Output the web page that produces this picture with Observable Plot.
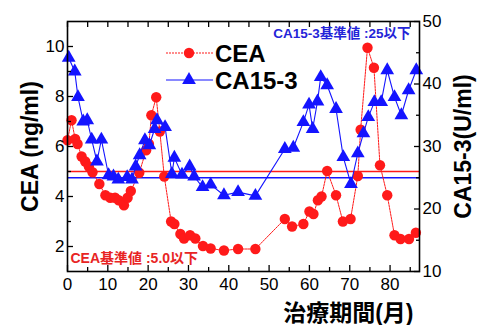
<!DOCTYPE html>
<html>
<head>
<meta charset="utf-8">
<script src="https://cdn.jsdelivr.net/npm/d3@7"></script>
<script src="https://cdn.jsdelivr.net/npm/@observablehq/plot@0.6"></script>
<style>
  html, body { margin: 0; padding: 0; background: #fff; }
  #chart { width: 491px; height: 325px; }
</style>
</head>
<body>
<div id="chart"></div>
<script>
// ---- data ----
const ceaMonths = [0, 1.0, 1.9, 2.5, 3.5, 4.4, 5.3, 6.2, 7.9, 9.4, 10.6, 11.8, 12.7, 14.0, 14.9, 15.7, 17.8, 19.5, 20.2, 20.8, 22.0, 22.9, 24.0, 25.7, 26.5, 28.0, 28.9, 30.4, 31.7, 33.6, 35.5, 38.8, 42.3, 46.6, 53.9, 55.7, 58.5, 60.0, 61.0, 62.1, 63.0, 64.4, 66.6, 68.3, 70.2, 72.0, 72.7, 74.4, 76.0, 77.5, 79.3, 81.1, 82.6, 84.7, 86.4];
const ceaValues = [6.25, 7.05, 6.3, 6.1, 5.6, 5.4, 5.2, 4.97, 4.5, 4.05, 3.95, 3.95, 3.85, 3.65, 3.95, 4.22, 4.95, 5.85, 6.1, 7.25, 7.97, 6.6, 4.8, 3.0, 2.9, 2.5, 2.32, 2.45, 2.32, 2.02, 1.92, 1.84, 1.9, 1.9, 3.1, 2.8, 2.9, 3.4, 3.3, 3.85, 4.0, 5.02, 4.05, 3.0, 3.1, 4.82, 6.67, 9.95, 9.15, 5.25, 4.05, 2.45, 2.3, 2.3, 2.55];

const caMonths = [0.3, 1.8, 2.6, 3.9, 4.9, 6.0, 7.3, 8.4, 10.2, 11.4, 12.6, 14.8, 16.0, 16.9, 17.9, 19.2, 20.3, 21.6, 22.2, 24.2, 25.9, 26.5, 28.4, 30.3, 31.4, 33.5, 35.5, 38.8, 42.3, 46.6, 53.9, 56.0, 58.5, 59.9, 60.8, 62.0, 62.8, 64.4, 66.6, 68.4, 70.3, 72.0, 73.4, 74.6, 76.1, 77.8, 79.3, 81.1, 82.8, 84.6, 86.5];
const caValues = [44.2, 42.0, 37.9, 34.0, 34.2, 31.1, 27.6, 31.1, 25.4, 25.2, 24.7, 25.1, 24.7, 26.8, 28.6, 31.0, 30.2, 32.8, 34.2, 33.1, 25.6, 28.2, 25.5, 26.8, 25.2, 23.5, 23.9, 22.2, 22.7, 22.1, 29.6, 29.8, 33.9, 36.7, 32.8, 37.2, 41.1, 39.8, 36.0, 28.3, 24.0, 28.9, 32.1, 34.7, 37.1, 37.1, 42.2, 37.9, 35.0, 39.0, 42.2];

const ceaLimit = 5.0;
const caLimit = 25;

const xMajorTicks = [0, 10, 20, 30, 40, 50, 60, 70, 80];
const xMinorTicks = [5, 15, 25, 35, 45, 55, 65, 75, 85];
const leftMajorTicks = [2, 4, 6, 8, 10];
const leftMinorTicks = [3, 5, 7, 9];
const rightMajorTicks = [10, 20, 30, 40, 50];
const rightMinorTicks = [15, 25, 35, 45];

const seriesNames = ["CEA", "CA15-3"];
const xLabel = "治療期間(月)";
const yLeftLabel = "CEA (ng/ml)";
const yRightLabel = "CA15-3(U/ml)";
const caNote = "CA15-3基準値 :25以下";
const ceaNote = "CEA基準値 :5.0以下";

// ---- styling ----
const RED = "#ff1a1a";
const BLUE = "#1414ff";
const FONT = "'Liberation Sans', Arial, 'Noto Sans CJK JP', sans-serif";

// CA15-3 (10..50) mapped onto the CEA scale (1..11)
const caToY = v => 1 + (v - 10) / 4;
const yToCa = y => Math.round(10 + (y - 1) * 4);

const ceaData = ceaMonths.map((m, i) => ({m, v: ceaValues[i]}));
const caData = caMonths.map((m, i) => ({m, v: caValues[i]}));

const blank = () => "";

const chart = Plot.plot({
  width: 491,
  height: 325,
  marginLeft: 67,
  marginRight: 72,
  marginTop: 21,
  marginBottom: 54,
  style: {fontFamily: FONT, fontSize: "17px", color: "black", background: "white", overflow: "visible"},
  x: {domain: [0, 87.3]},
  y: {domain: [1, 11]},
  marks: [
    Plot.ruleY([ceaLimit], {stroke: RED, strokeWidth: 1.6}),
    Plot.ruleY([caLimit], {y: d => caToY(d), stroke: BLUE, strokeWidth: 1.6}),
    Plot.line(ceaData, {x: "m", y: "v", stroke: RED, strokeWidth: 1, strokeDasharray: "2,1"}),
    Plot.dot(ceaData, {x: "m", y: "v", r: 5.2, fill: RED}),
    Plot.line(caData, {x: "m", y: d => caToY(d.v), stroke: BLUE, strokeWidth: 1.1}),
    Plot.dot(caData, {x: "m", y: d => caToY(d.v), symbol: "triangle", r: 5.1, fill: BLUE}),
    Plot.frame({stroke: "black", strokeWidth: 1.6}),
    // axes (ticks pointing inward)
    Plot.axisX({anchor: "bottom", ticks: xMajorTicks, tickSize: -6, tickPadding: 12, fontSize: 17, strokeWidth: 1.3, label: null}),
    Plot.axisX({anchor: "bottom", ticks: xMinorTicks, tickSize: -4, tickFormat: blank, strokeWidth: 1.3, label: null}),
    Plot.axisX({anchor: "top", ticks: xMajorTicks.concat(xMinorTicks), tickSize: -5, tickFormat: blank, strokeWidth: 1.3, label: null}),
    Plot.axisY({anchor: "left", ticks: leftMajorTicks, tickSize: -6, tickPadding: 9, fontSize: 17, strokeWidth: 1.3, label: null}),
    Plot.axisY({anchor: "left", ticks: leftMinorTicks, tickSize: -4, tickFormat: blank, strokeWidth: 1.3, label: null}),
    Plot.axisY({anchor: "right", ticks: rightMajorTicks.map(caToY), tickFormat: yToCa, tickSize: -6, tickPadding: 9, fontSize: 17, strokeWidth: 1.3, label: null}),
    Plot.axisY({anchor: "right", ticks: rightMinorTicks.map(caToY), tickSize: -4, tickFormat: blank, strokeWidth: 1.3, label: null}),
    // axis titles
    Plot.text([yLeftLabel], {text: d => d, frameAnchor: "left", dx: -37, rotate: -90, textAnchor: "middle", lineAnchor: "middle", fontSize: 23, fontWeight: "bold", fill: "black"}),
    Plot.text([yRightLabel], {text: d => d, frameAnchor: "right", dx: 44, rotate: -90, textAnchor: "middle", lineAnchor: "middle", fontSize: 23, fontWeight: "bold", fill: "black"}),
    Plot.text([xLabel], {text: d => d, frameAnchor: "bottom-right", dx: -6, dy: 42, textAnchor: "end", lineAnchor: "middle", fontSize: 23, fontWeight: "bold", fill: "black"}),
    // reference notes
    Plot.text([caNote], {text: d => d, frameAnchor: "top-right", dx: -9, dy: 12, textAnchor: "end", lineAnchor: "middle", fontSize: 13.5, fontWeight: "bold", fill: "#2424d8"}),
    Plot.text([ceaNote], {text: d => d, frameAnchor: "bottom-left", dx: 3, dy: -13, textAnchor: "start", lineAnchor: "middle", fontSize: 14, fontWeight: "bold", fill: "#e82424"})
  ]
});

// ---- legend (inside the plot area, upper middle) ----
const svg = d3.select(chart);
const lg = svg.append("g").attr("font-family", FONT).attr("text-anchor", "start");
const legendItems = [
  {name: seriesNames[0], color: RED, dash: "2,1", symbol: d3.symbolCircle, size: Math.PI * 5.2 * 5.2},
  {name: seriesNames[1], color: BLUE, dash: null, symbol: d3.symbolTriangle, size: Math.PI * 5.1 * 5.1}
];
legendItems.forEach((it, i) => {
  const y = 53 + i * 27;
  lg.append("line").attr("x1", 166).attr("x2", 213).attr("y1", y).attr("y2", y)
    .attr("stroke", it.color).attr("stroke-width", 1.1).attr("stroke-dasharray", it.dash);
  lg.append("path").attr("d", d3.symbol(it.symbol, it.size)()).attr("transform", `translate(189,${y})`).attr("fill", it.color);
  lg.append("text").attr("x", 215).attr("y", y).attr("dy", "0.36em").attr("text-anchor", "start")
    .attr("font-size", 24).attr("font-weight", "bold").attr("fill", "black").text(it.name);
});

document.getElementById("chart").appendChild(chart);
</script>
</body>
</html>
